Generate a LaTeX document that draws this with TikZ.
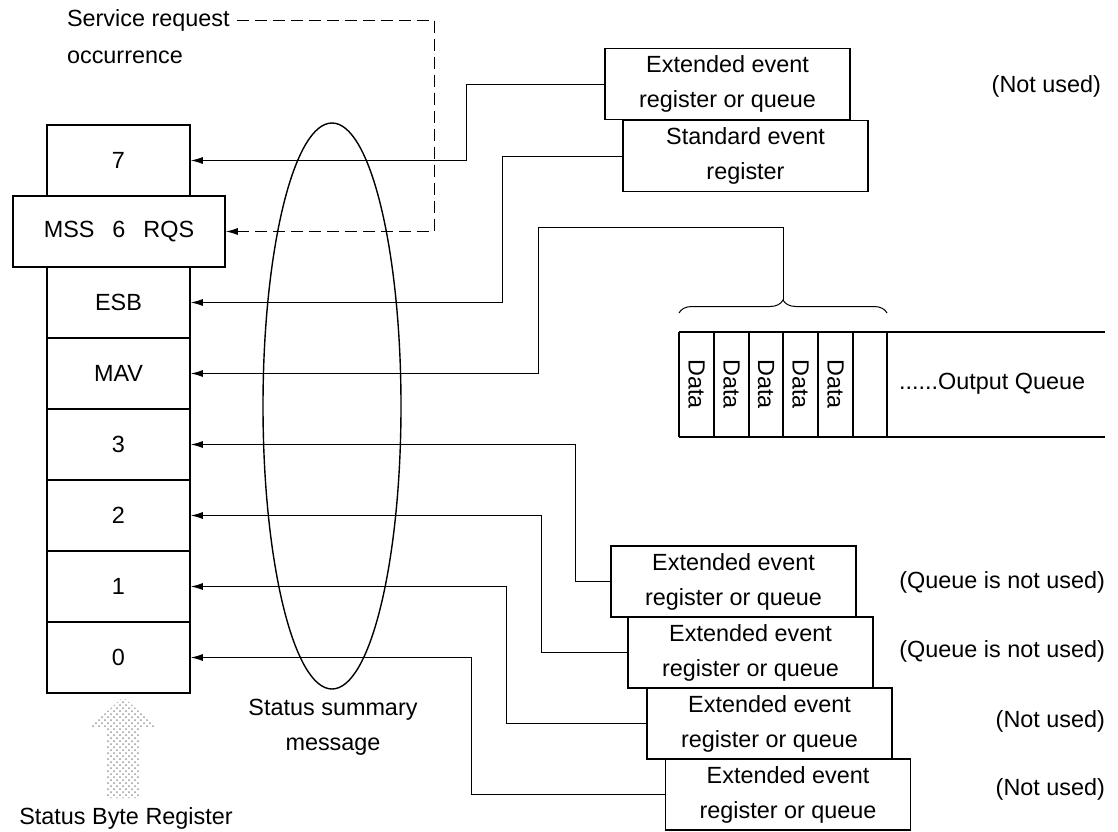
\documentclass[tikz,border=0pt]{standalone}
\usepackage{fontspec}
\setmainfont{Liberation Sans}
\usetikzlibrary{arrows.meta,decorations.pathreplacing,patterns}

\begin{document}
\begin{tikzpicture}[x=0.5pt, y=-0.5pt,
   every node/.style={font=\fontsize{11.7}{17.5}\selectfont},
   cell/.style={draw, line width=0.8pt, minimum width=71.5pt, minimum height=35.5pt, inner sep=0pt},
   evbox/.style={draw, fill=white, line width=0.8pt, align=center,
                 minimum width=122.5pt, minimum height=35.5pt, inner sep=0pt},
   sig/.style={line width=0.5pt, -{Latex[length=6pt,width=3.5pt]}},
   note/.style={anchor=east}]
\useasboundingbox (0,0) rectangle (1118,831);

\foreach \lab/\nm/\k in {7/b7/0, ESB/b5/2, MAV/b4/3, 3/b3/4, 2/b2/5, 1/b1/6, 0/b0/7}
  \node[cell] (\nm) at (118.5,160.5+71*\k) {\lab};
\node[cell, fill=white, minimum width=106pt] (b6) at (119,231.5) {MSS\hspace{9pt}6\hspace{9pt}RQS};

\draw[line width=0.7pt] (332,406) ellipse [x radius=34.5pt, y radius=141.5pt];
\node[align=center] (ssm) at (333,727.5) {Status summary\\message};

\fill[pattern=crosshatch dots, pattern color=gray!80]
  (123,697) -- (157,727) -- (140,727) -- (140,798) -- (107,798) -- (107,727) -- (90,727) -- cycle;
\node (sbr) at (126,818) {Status Byte Register};

\node[anchor=west] (srq) at (60,20) {Service request};
\node[anchor=west] (occ) at (60,57) {occurrence};
\draw[sig, dash pattern=on 6pt off 3pt] (srq.east) -| (434,231.5) -- (b6.east);

\node[evbox] (x7) at (727.5,84) {Extended event\\register or queue};
\node[evbox] (ser) at (745.5,156) {Standard event\\register};
\node[note] (nu7) at (1108,86) {(Not used)};
\draw[sig] (x7.west) -- ++(-138,0) |- (b7.east);
\draw[sig] (ser.west) -- ++(-120,0) |- (b5.east);

\draw[line width=1pt] (679,332) -- (1105,332) (679,437) -- (1105,437);
\foreach \x in {679,714,749,783,818,853,887}
  \draw[line width=0.8pt] (\x,332) -- (\x,437);
\foreach \x [count=\j] in {696.5,731.5,766,800.5,835.5}
  \node[rotate=-90] (d\j) at (\x,384) {Data};
\node[anchor=west] (oq) at (892,384) {......Output Queue};
\draw[decorate, decoration={brace, amplitude=6.5pt}, line width=0.5pt] (679,313) -- (887,313);
\coordinate (brtip) at (783,300);
\draw[sig] (brtip) |- (538,227) |- (b4.east);

\foreach \nm/\x/\y in {ea/733.5/581.5, eb/750.5/652.5, ec/769.5/723.5, ed/788/794.5}
  \node[evbox] (\nm) at (\x,\y) {Extended event\\register or queue};
\node[note] (q3) at (1112,582) {(Queue is not used)};
\node[note] (q2) at (1112,651) {(Queue is not used)};
\node[note] (nu1) at (1112,721) {(Not used)};
\node[note] (nu0) at (1112,789) {(Not used)};
\draw[sig] (ea.west) -- ++(-35,0) |- (b3.east);
\draw[sig] (eb.west) -- ++(-86,0) |- (b2.east);
\draw[sig] (ec.west) -- ++(-140,0) |- (b1.east);
\draw[sig] (ed.west) -- ++(-193,0) |- (b0.east);
\end{tikzpicture}
\end{document}
